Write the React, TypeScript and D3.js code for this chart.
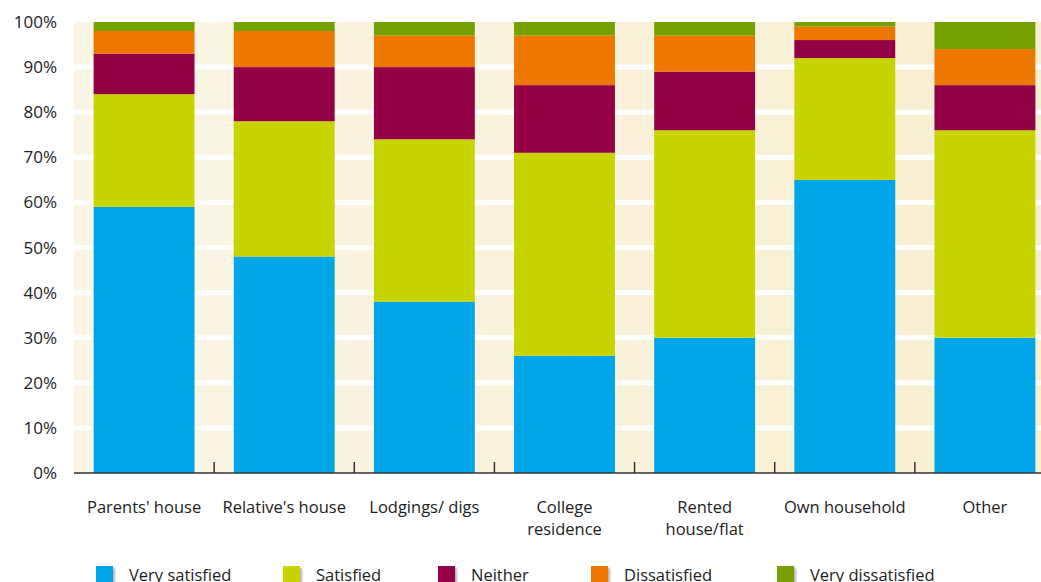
import React from "react";
import * as d3 from "d3";

const categories = ["Parents' house", "Relative's house", "Lodgings/ digs", "College residence", "Rented house/flat", "Own household", "Other"];
const categoryLines = [["Parents' house"], ["Relative's house"], ["Lodgings/ digs"], ["College", "residence"], ["Rented", "house/flat"], ["Own household"], ["Other"]];
const seriesNames = ["Very satisfied", "Satisfied", "Neither", "Dissatisfied", "Very dissatisfied"];
const seriesColors = ["#00A6E7", "#C8D400", "#930046", "#EE7700", "#76A102"];
const verySatisfied = [59, 48, 38, 26, 30, 65, 30];
const satisfied = [25, 30, 36, 45, 46, 27, 46];
const neither = [9, 12, 16, 15, 13, 4, 10];
const dissatisfied = [5, 8, 7, 11, 8, 3, 8];
const veryDissatisfied = [2, 2, 3, 3, 3, 1, 6];
const yTicks = [0, 10, 20, 30, 40, 50, 60, 70, 80, 90, 100];

const W = 1041, H = 582;
const left = 74, right = 1055, top = 22, bottom = 473;
const FONT = "'Open Sans', 'Noto Sans', sans-serif";

export default function App() {
  const all = [verySatisfied, satisfied, neither, dissatisfied, veryDissatisfied];
  const rows = categories.map((c, i) => {
    const r: any = { cat: c };
    seriesNames.forEach((s, j) => (r[s] = all[j][i]));
    return r;
  });
  const stack = d3.stack().keys(seriesNames)(rows);
  const x = d3.scaleBand().domain(categories).range([left, right]).paddingInner(0.28).paddingOuter(0.14);
  const y = d3.scaleLinear().domain([0, 100]).range([bottom, top]);
  const step = x.step();
  const legendX = [96, 283, 438, 591, 777];

  return (
    <svg width={W} height={H} style={{ position: "absolute", left: 0, top: 0 }} fontFamily={FONT}>
      <defs>
        <linearGradient id="bg" x1="0" x2="1" y1="0" y2="0">
          <stop offset="0" stopColor="#FBF5E6" />
          <stop offset="1" stopColor="#F8EFD0" />
        </linearGradient>
        <filter id="sh" x="-20%" y="-20%" width="160%" height="160%">
          <feDropShadow dx="2" dy="2" stdDeviation="1.2" floodColor="#000" floodOpacity="0.3" />
        </filter>
      </defs>
      <rect x={left} y={top} width={right - left} height={bottom - top} fill="url(#bg)" />
      {yTicks.filter(t => t > 0 && t < 100).map(t => (
        <rect key={t} x={left} y={y(t) - 2.5} width={right - left} height={5} fill="#fff" />
      ))}
      {stack.map((s, j) => (
        <g key={s.key}>
          {s.map((d, i) => (
            <rect key={i} x={x(categories[i])} width={x.bandwidth()} y={y(d[1])} height={y(d[0]) - y(d[1])} fill={seriesColors[j]} />
          ))}
        </g>
      ))}
      <line x1={left} x2={right} y1={bottom} y2={bottom} stroke="#333" strokeWidth={1.5} />
      {categories.slice(0, -1).map((c, i) => {
        const tx = (x(c) as number) + x.bandwidth() + (step - x.bandwidth()) / 2;
        return <line key={c} x1={tx} x2={tx} y1={bottom} y2={bottom - 11} stroke="#333" strokeWidth={1.5} />;
      })}
      {yTicks.map(t => (
        <text key={t} x={57} y={y(t) + 6} textAnchor="end" fontSize={17} fill="#222">{t}%</text>
      ))}
      {categories.map((c, i) => (
        <text key={c} x={(x(c) as number) + x.bandwidth() / 2} y={513} textAnchor="middle" fontSize={16.5} fill="#222">
          {categoryLines[i].map((l, k) => (
            <tspan key={k} x={(x(c) as number) + x.bandwidth() / 2} dy={k === 0 ? 0 : 22}>{l}</tspan>
          ))}
        </text>
      ))}
      {seriesNames.map((s, j) => (
        <g key={s}>
          <rect x={legendX[j]} y={566} width={17} height={17} fill={seriesColors[j]} filter="url(#sh)" />
          <text x={legendX[j] + 33} y={581} fontSize={16.5} fill="#222">{s}</text>
        </g>
      ))}
    </svg>
  );
}
